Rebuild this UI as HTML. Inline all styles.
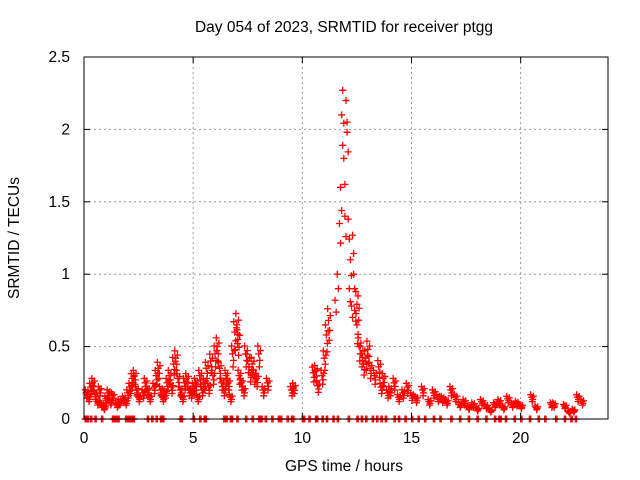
<!DOCTYPE html>
<html><head><meta charset="utf-8"><style>
body{margin:0;background:#fff;font-family:"Liberation Sans",sans-serif}
svg{display:block}
text{font-family:"Liberation Sans",sans-serif;font-size:15.5px;fill:#000}
</style></head><body>
<svg id="chart" width="640" height="480">
<rect x="0" y="0" width="640" height="480" fill="#fff"/>
<g id="grid"></g>
<g id="pts"></g>
<rect x="84" y="57" width="524" height="362" fill="none" stroke="#000" stroke-width="1"/>
<g id="ticks"></g>
<text x="344" y="32" text-anchor="middle">Day 054 of 2023, SRMTID for receiver ptgg</text>
<text x="344" y="471" text-anchor="middle">GPS time / hours</text>
<text x="0" y="0" text-anchor="middle" transform="translate(19,238) rotate(-90)">SRMTID / TECUs</text>
</svg>
<script>
const xTicks=[0,5,10,15,20];
const yTicks=[0,0.5,1,1.5,2,2.5];
const yTickLabels=["0","0.5","1","1.5","2","2.5"];
const times=[0.1,0.2,0.3,0.4,0.5,0.6,0.7,0.8,0.9,1.0,1.1,1.2,1.3,1.5,1.6,1.8,1.9,2.0,2.1,2.2,2.3,2.4,2.5,2.7,2.8,2.9,3.0,3.2,3.3,3.4,3.5,3.6,3.7,3.8,3.9,4.0,4.1,4.2,4.3,4.4,4.5,4.6,4.7,4.8,4.9,5.0,5.1,5.2,5.3,5.4,5.5,5.6,5.7,5.8,5.9,6.0,6.1,6.2,6.3,6.4,6.5,6.6,6.7,6.8,6.9,7.0,7.05,7.1,7.2,7.3,7.4,7.5,7.6,7.7,7.8,7.9,8.0,8.2,8.4,9.5,9.6,10.5,10.6,10.7,10.9,11.0,11.1,11.2,11.5,11.6,11.7,11.75,11.8,11.85,11.9,11.95,12.0,12.05,12.1,12.15,12.2,12.25,12.3,12.35,12.4,12.45,12.5,12.55,12.6,12.7,12.8,12.9,13.0,13.1,13.3,13.5,13.6,13.7,13.9,14.0,14.2,14.4,14.6,14.8,15.0,15.2,15.5,15.8,16.0,16.2,16.4,16.6,16.8,17.0,17.2,17.4,17.6,17.8,18.0,18.2,18.4,18.6,18.8,19.0,19.2,19.4,19.6,19.8,20.0,20.5,20.7,21.4,21.5,22.0,22.2,22.4,22.6,22.8];
const values=[0.18,0.15,0.22,0.25,0.17,0.12,0.2,0.1,0.08,0.14,0.18,0.12,0.16,0.1,0.12,0.14,0.12,0.18,0.22,0.28,0.3,0.2,0.15,0.18,0.25,0.2,0.15,0.22,0.3,0.35,0.2,0.15,0.18,0.25,0.3,0.22,0.38,0.42,0.28,0.2,0.15,0.25,0.28,0.2,0.18,0.22,0.25,0.15,0.3,0.2,0.25,0.35,0.22,0.4,0.3,0.45,0.5,0.35,0.25,0.2,0.3,0.25,0.15,0.45,0.6,0.65,0.55,0.3,0.25,0.2,0.45,0.4,0.32,0.38,0.3,0.28,0.45,0.2,0.25,0.2,0.22,0.32,0.33,0.23,0.3,0.42,0.58,0.68,0.82,1.0,1.35,1.6,2.1,2.27,1.8,1.4,2.2,2.05,1.38,0.9,1.1,0.78,1.27,1.0,0.75,0.88,0.65,0.85,0.5,0.45,0.38,0.42,0.48,0.35,0.3,0.36,0.22,0.28,0.18,0.2,0.25,0.15,0.18,0.22,0.16,0.14,0.2,0.12,0.18,0.15,0.14,0.12,0.2,0.15,0.1,0.12,0.08,0.1,0.07,0.12,0.09,0.06,0.1,0.12,0.08,0.14,0.1,0.11,0.09,0.15,0.08,0.1,0.1,0.09,0.05,0.06,0.15,0.12,0.14,0.13,0.12];
const zeroTimes=[0.05,0.1,0.15,0.3,0.5,0.8,1.3,1.35,1.4,1.5,1.55,1.9,2.0,2.05,2.1,2.2,2.25,2.9,3.1,3.3,3.5,3.55,3.6,4.4,4.45,5.0,5.3,5.5,5.55,6.4,6.5,6.7,6.75,7.0,7.4,7.7,8.0,8.05,8.1,8.3,8.6,8.9,9.0,9.3,9.5,9.55,10.0,10.05,10.3,10.6,10.65,10.9,11.1,11.4,11.6,12.1,12.5,12.7,12.9,13.2,13.4,13.6,13.8,14.2,14.4,14.7,15.0,15.3,15.6,16.0,16.3,16.8,17.2,17.6,18.0,18.4,18.8,19.0,19.05,19.3,19.7,20.0,20.4,20.8,21.1,21.6,22.0,22.3,22.5];
const X=v=>84+v*524/24, Y=v=>419-v*362/2.5;
const NS="http://www.w3.org/2000/svg";
const grid=document.getElementById('grid'),ticks=document.getElementById('ticks'),pts=document.getElementById('pts');
function mk(tag,attrs,parent){const e=document.createElementNS(NS,tag);for(const k in attrs)e.setAttribute(k,attrs[k]);parent.appendChild(e);return e;}
xTicks.forEach(t=>{
 if(t>0){const g=mk('line',{x1:X(t),x2:X(t),y1:57,y2:419,stroke:'#999','stroke-dasharray':'2,3'},grid);
 
 }
 mk('line',{x1:X(t),x2:X(t),y1:419,y2:413,stroke:'#000'},ticks);
 mk('line',{x1:X(t),x2:X(t),y1:57,y2:63,stroke:'#000'},ticks);
 const l=mk('text',{x:X(t),y:443,'text-anchor':'middle'},ticks);l.textContent=t;
 
 
});
yTicks.forEach((t,i)=>{
 if(t>0&&t<2.5){const g=mk('line',{x1:84,x2:608,y1:Y(t),y2:Y(t),stroke:'#999','stroke-dasharray':'2,3'},grid);
 
 }
 mk('line',{x1:84,x2:90,y1:Y(t),y2:Y(t),stroke:'#000'},ticks);
 mk('line',{x1:608,x2:602,y1:Y(t),y2:Y(t),stroke:'#000'},ticks);
 const l=mk('text',{x:70,y:Y(t)+5,'text-anchor':'end'},ticks);l.textContent=yTickLabels[i];
 
 
});
function plus(x,y){const p=mk('path',{d:`M${x-3.5},${y}h7M${x},${y-3.5}v7`,stroke:'#f00','stroke-width':1.3,fill:'none'},pts);
 
 }
times.forEach((t,i)=>{
 const v=values[i];
 plus(X(t),Y(v));
 plus(X(t+0.05),Y(v*0.9));
 if(v<0.7){plus(X(t-0.04),Y(v*1.12));plus(X(t+0.03),Y(v*0.8));plus(X(t+0.08),Y(v*1.05));}
});
zeroTimes.forEach(t=>{plus(X(t),Y(0));plus(X(t+0.06),Y(0));});
</script>
</body></html>
